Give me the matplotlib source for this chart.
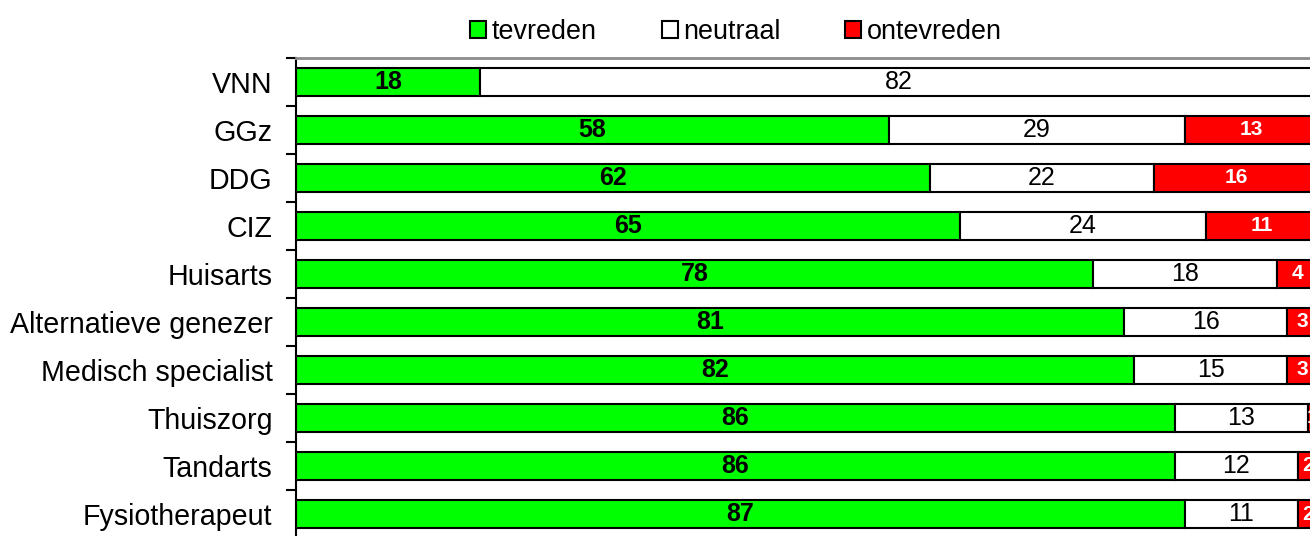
import matplotlib
matplotlib.use('Agg')
import matplotlib.pyplot as plt
from matplotlib.patches import Patch
import numpy as np

plt.rcParams['font.family'] = ['Liberation Sans', 'DejaVu Sans']

categories = ['VNN', 'GGz', 'DDG', 'CIZ', 'Huisarts', 'Alternatieve genezer',
              'Medisch specialist', 'Thuiszorg', 'Tandarts', 'Fysiotherapeut']
tevreden = [18, 58, 62, 65, 78, 81, 82, 86, 86, 87]
neutraal = [82, 29, 22, 24, 18, 16, 15, 13, 12, 11]
ontevreden = [0, 13, 16, 11, 4, 3, 3, 1, 2, 2]

W, H = 1310, 536
fig = plt.figure(figsize=(W / 100, H / 100), dpi=100)
ax = fig.add_axes([296 / W, -2 / H, 1022 / W, 480 / H])

y = np.arange(len(categories))
green = '#00ff00'
red = '#ff0000'
h = 0.6
lw = 1.5

ax.barh(y, tevreden, height=h, color=green, edgecolor='black', linewidth=lw)
left2 = np.array(tevreden)
ax.barh(y, neutraal, left=left2, height=h, color='white', edgecolor='black', linewidth=lw)
left3 = left2 + np.array(neutraal)
ax.barh(y, ontevreden, left=left3, height=h, color=red, edgecolor='black', linewidth=lw)

for i in range(len(categories)):
    t, n, o = tevreden[i], neutraal[i], ontevreden[i]
    if t > 0:
        ax.text(t / 2, i, str(t), ha='center', va='center', fontsize=18,
                fontweight='bold', color='black')
    if n > 0:
        ax.text(t + n / 2, i, str(n), ha='center', va='center', fontsize=18,
                color='black')
    if o > 0:
        ax.text(t + n + o / 2, i, str(o), ha='center', va='center', fontsize=15,
                fontweight='bold', color='white')

ax.set_xlim(0, 100)
ax.set_ylim(len(categories) - 0.5, -0.5)

ax.set_yticks(y)
ax.set_yticklabels(categories, fontsize=20.6)
ax.tick_params(axis='y', which='major', length=0, pad=17)
ax.set_yticks(np.arange(-0.5, len(categories), 1), minor=True)
ax.tick_params(axis='y', which='minor', length=7, width=1.5, direction='out')
ax.set_xticks([])

ax.spines['left'].set_linewidth(1.5)
ax.spines['top'].set_color('#8c8c8c')
ax.spines['top'].set_linewidth(2)
ax.spines['right'].set_visible(False)
ax.spines['bottom'].set_visible(False)

handles = [Patch(facecolor=green, edgecolor='black', linewidth=1.5, label='tevreden'),
           Patch(facecolor='white', edgecolor='black', linewidth=1.5, label='neutraal'),
           Patch(facecolor=red, edgecolor='black', linewidth=1.5, label='ontevreden')]
fig.legend(handles=handles, loc='center', bbox_to_anchor=(736 / W, 1 - 32 / H),
           ncol=3, frameon=False, fontsize=19.4, handlelength=0.6, handleheight=0.6,
           handletextpad=0.2, columnspacing=2.4)

fig.savefig('out.png', dpi=100)
